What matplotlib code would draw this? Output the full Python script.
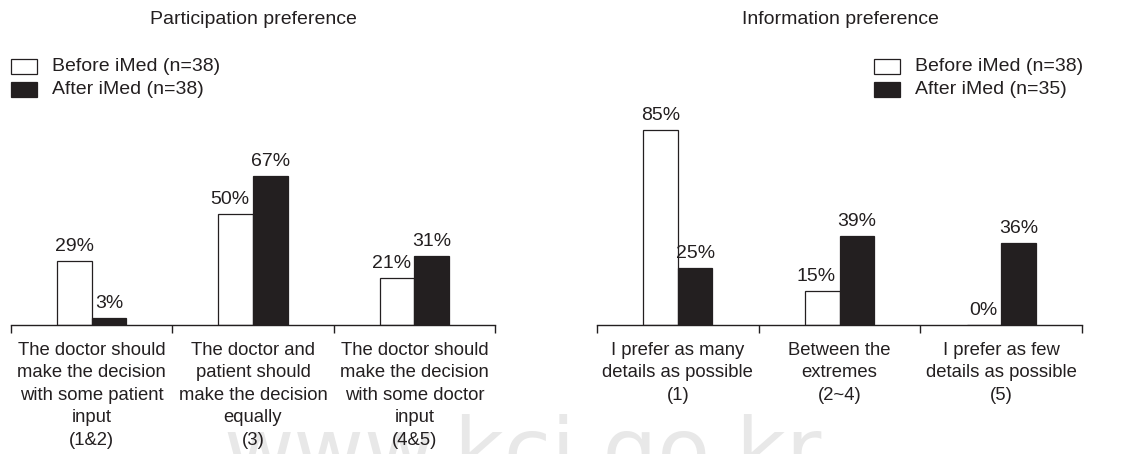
import numpy as np
import matplotlib
matplotlib.use("Agg")
import matplotlib.pyplot as plt
from matplotlib.patches import Rectangle

plt.rcParams['font.family'] = ['Liberation Sans', 'DejaVu Sans']

# ---- data ----
part_title = "Participation preference"
part_categories = [
    "The doctor should\nmake the decision\nwith some patient\ninput\n(1&2)",
    "The doctor and\npatient should\nmake the decision\nequally\n(3)",
    "The doctor should\nmake the decision\nwith some doctor\ninput\n(4&5)",
]
part_before = [29, 50, 21]
part_after = [3, 67, 31]
part_series = ["Before iMed (n=38)", "After iMed (n=38)"]

info_title = "Information preference"
info_categories = [
    "I prefer as many\ndetails as possible\n(1)",
    "Between the\nextremes\n(2~4)",
    "I prefer as few\ndetails as possible\n(5)",
]
info_before = [85, 15, 0]
info_after = [25, 39, 36]
info_series = ["Before iMed (n=38)", "After iMed (n=35)"]

W, H = 1144, 454
DARK = '#231f20'
FS = 14


def px_box(x0, y_top, w, h):
    """pixel box (from top-left) -> figure fraction rect"""
    return [x0 / W, 1 - (y_top + h) / H, w / W, h / H]


def draw_panel(fig, rect, ymax, categories, before, after):
    ax = fig.add_axes(rect)
    x = np.arange(len(categories))
    bw = 0.214
    ax.bar(x - bw / 2, before, bw, color='white', edgecolor=DARK, linewidth=0.9)
    ax.bar(x + bw / 2, after, bw, color=DARK, edgecolor=DARK, linewidth=0.9)

    for xi, b, a in zip(x, before, after):
        # the "before" label moves left when the taller black bar would crowd it
        dx = -4.3 if (0 < b < a) else 0
        ax.annotate(f"{b}%", (xi - bw / 2, b), xytext=(dx, 7.2),
                    textcoords='offset points', ha='center', va='baseline',
                    fontsize=FS, color=DARK)
        ax.annotate(f"{a}%", (xi + bw / 2, a), xytext=(0, 7.2),
                    textcoords='offset points', ha='center', va='baseline',
                    fontsize=FS, color=DARK)

    ax.set_xlim(-0.5, len(categories) - 0.5)
    ax.set_ylim(0, ymax)
    for s in ['top', 'left', 'right']:
        ax.spines[s].set_visible(False)
    ax.spines['bottom'].set_linewidth(1.0)
    ax.spines['bottom'].set_color(DARK)
    ax.set_yticks([])
    ax.set_xticks(np.arange(len(categories) + 1) - 0.5)
    ax.set_xticklabels([])
    ax.tick_params(axis='x', which='major', direction='out', length=5.8,
                   width=1.0, color=DARK)
    ax.set_xticks(x, minor=True)
    ax.set_xticklabels(categories, minor=True, fontsize=13.3, color=DARK,
                       linespacing=1.42)
    ax.tick_params(axis='x', which='minor', length=0, pad=12)
    return ax


def draw_legend(fig, x0, labels):
    tops = [59, 82]
    fills = ['white', DARK]
    for top, fill, lab in zip(tops, fills, labels):
        fig.add_artist(Rectangle((x0 / W, 1 - (top + 14.5) / H), 26 / W, 14.5 / H,
                                 transform=fig.transFigure, facecolor=fill,
                                 edgecolor=DARK, linewidth=0.9))
        fig.text((x0 + 41) / W, 1 - (top + 7.5) / H, lab, fontsize=FS,
                 color=DARK, ha='left', va='center')


fig = plt.figure(figsize=(W / 100, H / 100), dpi=100)

# faint watermark behind everything (cut by the bottom edge, as in the source)
fig.text(523 / W, 1 - 479 / H, "www.kci.go.kr", fontsize=62, color='#e8e8e8',
         ha='center', va='baseline', family='DejaVu Sans', zorder=-5)

draw_panel(fig, px_box(11, 100, 484, 225), 101.4, part_categories, part_before, part_after)
draw_panel(fig, px_box(597, 100, 485, 225), 98.3, info_categories, info_before, info_after)

fig.text(253 / W, 1 - 19 / H, part_title, fontsize=FS, color=DARK, ha='center', va='center')
fig.text(840 / W, 1 - 19 / H, info_title, fontsize=FS, color=DARK, ha='center', va='center')

draw_legend(fig, 11, part_series)
draw_legend(fig, 874, info_series)

for a in fig.axes:
    a.patch.set_alpha(0)

fig.savefig("out.png", dpi=100)
